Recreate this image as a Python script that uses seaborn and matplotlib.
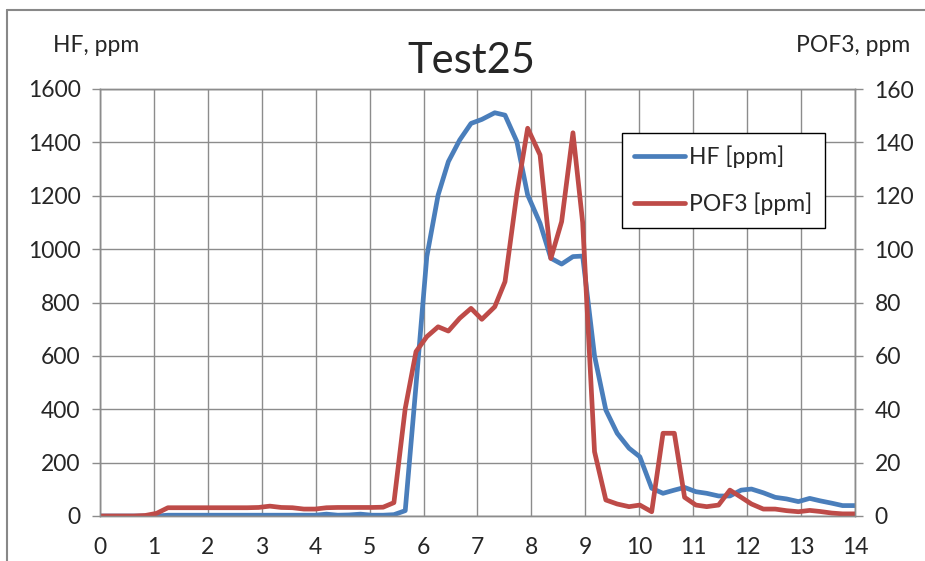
import numpy as np
import pandas as pd
import matplotlib
matplotlib.use("Agg")
import matplotlib.pyplot as plt
from matplotlib.lines import Line2D
import seaborn as sns

# time axis
time = [0.0, 0.21, 0.42, 0.63, 0.84, 1.05, 1.26, 1.47, 1.68, 1.89,
        2.10, 2.31, 2.52, 2.73, 2.94, 3.15, 3.36, 3.57, 3.78, 3.99,
        4.20, 4.41, 4.62, 4.83, 5.04, 5.25, 5.45, 5.66, 5.86, 6.06,
        6.27, 6.46, 6.67, 6.88, 7.08, 7.32, 7.51, 7.73, 7.93, 8.16,
        8.36, 8.56, 8.77, 8.95, 9.17, 9.38, 9.59, 9.81, 10.01, 10.23,
        10.44, 10.65, 10.84, 11.05, 11.25, 11.47, 11.68, 11.89, 12.08, 12.30,
        12.52, 12.73, 12.95, 13.16, 13.35, 13.57, 13.77, 14.0]

hf = [0, 0, 0, 0, 0, 0, 3, 3, 3, 3,
      3, 3, 3, 3, 3, 3, 3, 3, 3, 3,
      7, 3, 4, 7, 3, 3, 5, 20, 490, 972,
      1203, 1328, 1409, 1471, 1486, 1511, 1502, 1403, 1203, 1097,
      966, 944, 972, 974, 600, 397, 310, 254, 222, 104,
      85, 97, 107, 91, 85, 75, 75, 97, 101, 87,
      70, 64, 54, 66, 57, 48, 39, 39]

pof3 = [0, 0, 0, 0, 0.2, 1.0, 3.1, 3.1, 3.1, 3.1,
        3.1, 3.1, 3.1, 3.1, 3.2, 3.7, 3.2, 3.1, 2.6, 2.6,
        3.1, 3.2, 3.2, 3.2, 3.2, 3.3, 5.0, 40.3, 61.6, 67.2,
        70.9, 69.3, 74.1, 77.8, 73.7, 78.4, 87.8, 120.9, 145.3, 135.3,
        96.5, 110.3, 143.6, 110, 24.1, 6.0, 4.5, 3.5, 4.1, 1.6,
        31, 31, 7.0, 4.1, 3.5, 4.1, 9.7, 7.0, 4.5, 2.6,
        2.6, 2.0, 1.6, 2.1, 1.7, 1.1, 0.8, 0.8]

x_ticks = list(range(0, 15))
hf_ticks = list(range(0, 1601, 200))
pof3_ticks = list(range(0, 161, 20))

df = pd.DataFrame({"time": time, "HF": hf, "POF3": pof3})

sns.set_style("white")
plt.rcParams['font.family'] = ['Lato', 'DejaVu Sans']

blue = "#4A7EBB"
red = "#BE4B48"
gridc = "#8C8C8C"
fs = 16.5

fig = plt.figure(figsize=(9.25, 5.61), dpi=100)
ax = fig.add_axes([100/925, 45/561, 755/925, 427/561])
ax2 = ax.twinx()

sns.lineplot(data=df, x="time", y="HF", ax=ax, color=blue, lw=3.4, legend=False)
sns.lineplot(data=df, x="time", y="POF3", ax=ax2, color=red, lw=3.4, legend=False)

ax.set_xlim(0, 14)
ax.set_ylim(0, 1600)
ax2.set_ylim(0, 160)
ax.set_xticks(x_ticks)
ax.set_yticks(hf_ticks)
ax2.set_yticks(pof3_ticks)
ax.grid(True, color=gridc, lw=1)
ax.set_xlabel("")
ax.set_ylabel("")
ax2.set_ylabel("")

for a in (ax, ax2):
    for s in a.spines.values():
        s.set_color(gridc)
        s.set_linewidth(1)
    a.tick_params(length=6, width=1, color=gridc, labelsize=fs, pad=8)
ax.tick_params(axis='x', pad=9)

fig.text(471/925, 1 - 73/561, "Test25", ha="center", va="baseline", fontsize=30)
fig.text(53/925, 1 - 52/561, "HF, ppm", ha="left", va="baseline", fontsize=fs)
fig.text(910/925, 1 - 52/561, "POF3, ppm", ha="right", va="baseline", fontsize=fs)

handles = [Line2D([], [], color=blue, lw=3.4), Line2D([], [], color=red, lw=3.4)]
leg = ax2.legend(handles, ["HF [ppm]", "POF3 [ppm]"], loc="upper left",
                 bbox_to_anchor=(0.691, 0.897), fontsize=fs, frameon=True,
                 fancybox=False, edgecolor="black", framealpha=1,
                 handlelength=2.2, handletextpad=0.2, labelspacing=1.05,
                 borderpad=0.55, borderaxespad=0)
leg.get_frame().set_linewidth(1)

# outer chart frame (left and top edges visible)
fig.add_artist(Line2D([7/925, 7/925], [0, 1 - 10/561], transform=fig.transFigure,
                      color="#888888", lw=1.5))
fig.add_artist(Line2D([7/925, 1], [1 - 10/561, 1 - 10/561], transform=fig.transFigure,
                      color="#888888", lw=1.5))

fig.savefig("out.png", dpi=100)
